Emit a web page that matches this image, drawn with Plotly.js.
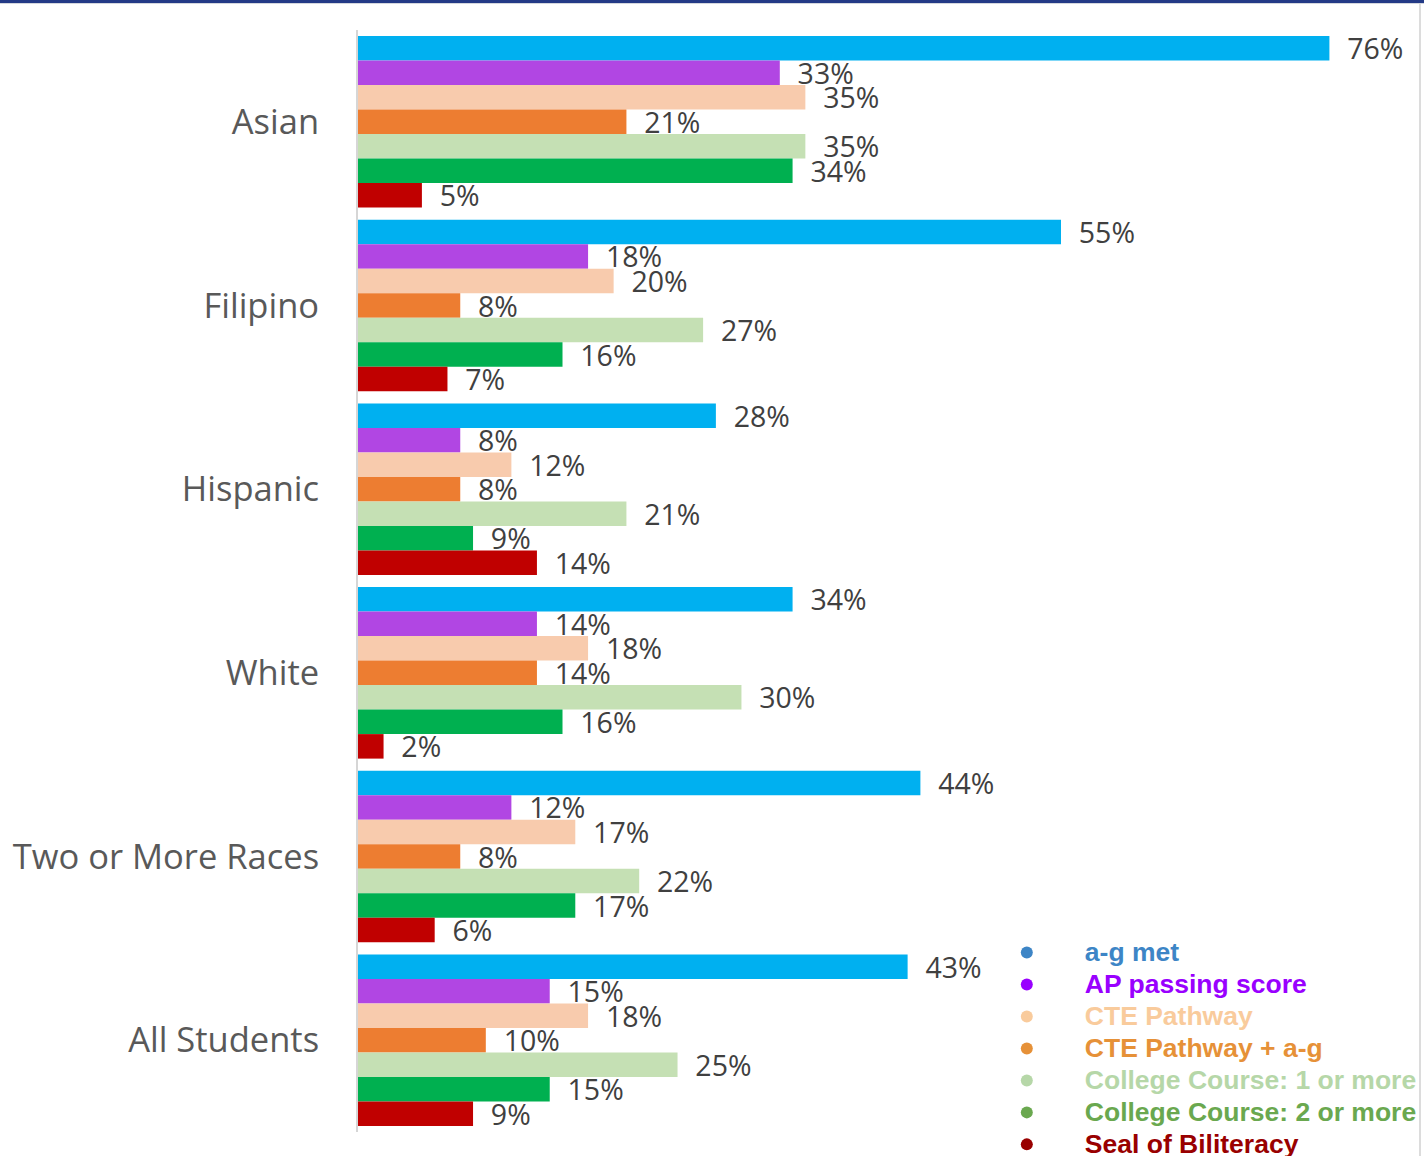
<!DOCTYPE html>
<html>
<head>
<meta charset="utf-8">
<script src="https://cdn.plot.ly/plotly-3.0.1.min.js"></script>
<style>
  html, body { margin: 0; padding: 0; background: #ffffff; }
  #wrap { position: relative; width: 1424px; height: 1156px; overflow: hidden; }
  #chart { position: absolute; left: 0; top: 0; width: 1424px; height: 1156px; }
  #topline { position: absolute; left: 0; top: 0; width: 1424px; height: 3px; background: #233a86; }
  #topline2 { position: absolute; left: 0; top: 3px; width: 1424px; height: 1px; background: #d4d7de; }
  #rightline { position: absolute; left: 1419px; top: 4px; width: 2px; height: 1152px; background: #dcdcdc; }
</style>
</head>
<body>
<div id="wrap">
  <div id="chart"></div>
  <div id="topline"></div>
  <div id="topline2"></div>
  <div id="rightline"></div>
</div>
<script>
// ---- data ----
const categories = ['Asian', 'Filipino', 'Hispanic', 'White', 'Two or More Races', 'All Students'];
const agMet     = [76, 55, 28, 34, 44, 43];
const apPassing = [33, 18, 8, 14, 12, 15];
const ctePathway = [35, 20, 12, 18, 17, 18];
const ctePathwayAg = [21, 8, 8, 14, 8, 10];
const college1 = [35, 27, 21, 30, 22, 25];
const college2 = [34, 16, 9, 16, 17, 15];
const sealBiliteracy = [5, 7, 14, 2, 6, 9];

const seriesNames = ['a-g met', 'AP passing score', 'CTE Pathway', 'CTE Pathway + a-g',
                     'College Course: 1 or more', 'College Course: 2 or more', 'Seal of Biliteracy'];
const seriesValues = [agMet, apPassing, ctePathway, ctePathwayAg, college1, college2, sealBiliteracy];

// ---- styles ----
const barColors = ['#00b0f0', '#b146e3', '#f8cbad', '#ed7d31', '#c5e0b4', '#00b050', '#c00000'];
const legendColors = ['#3d85c6', '#9900ff', '#f9cb9c', '#e69138', '#b6d7a8', '#6aa84f', '#990000'];

const traces = [];
seriesValues.forEach((vals, i) => {
  traces.push({
    type: 'bar',
    orientation: 'h',
    y: categories,
    x: vals,
    name: seriesNames[i],
    marker: { color: barColors[i], line: { width: 0 } },
    texttemplate: '\u00a0\u00a0%{x}%',
    textposition: 'outside',
    constraintext: 'none',
    cliponaxis: false,
    textfont: { family: 'Open Sans, sans-serif', size: 28.5, color: '#404040' },
    showlegend: false,
    hoverinfo: 'skip'
  });
});
// legend entries (circle markers)
seriesNames.forEach((nm, i) => {
  traces.push({
    type: 'scatter',
    mode: 'markers',
    x: [null],
    y: [null],
    name: '<b><span style="color:' + legendColors[i] + ';font-size:26.5px">' + nm + '</span></b>',
    marker: { color: legendColors[i], size: 12, symbol: 'circle' },
    showlegend: true,
    hoverinfo: 'skip'
  });
});

const layout = {
  width: 1424,
  height: 1156,
  margin: { l: 358, r: 0, t: 30, b: 24, autoexpand: false },
  paper_bgcolor: '#ffffff',
  plot_bgcolor: '#ffffff',
  barmode: 'group',
  bargap: 0.066,
  bargroupgap: 0,
  showlegend: true,
  xaxis: {
    range: [0, 83.4],
    showgrid: false,
    zeroline: false,
    showticklabels: false,
    showline: false,
    fixedrange: true
  },
  yaxis: {
    type: 'category',
    autorange: 'reversed',
    showgrid: false,
    zeroline: false,
    showline: true,
    linecolor: '#d6d6d6',
    linewidth: 2,
    ticks: '',
    ticklabelstandoff: 30,
    tickfont: { family: 'Open Sans, sans-serif', size: 34.5, color: '#595959' },
    fixedrange: true
  },
  legend: {
    x: 0.573,
    xanchor: 'left',
    y: 0.182,
    yanchor: 'top',
    bgcolor: 'rgba(0,0,0,0)',
    borderwidth: 0,
    itemwidth: 106,
    traceorder: 'normal',
    font: { family: 'Liberation Sans, Arial, sans-serif', size: 22.3, color: '#333333' }
  }
};

Plotly.newPlot('chart', traces, layout, { displayModeBar: false, staticPlot: true });
</script>
</body>
</html>
